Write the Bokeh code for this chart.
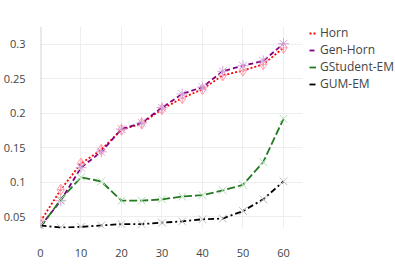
from bokeh.plotting import figure
from bokeh.models import Legend, LegendItem, Range1d, FixedTicker, Span
from bokeh.embed import file_html
from bokeh.resources import INLINE

x = [0, 5, 10, 15, 20, 25, 30, 35, 40, 45, 50, 55, 60]
horn = [0.043, 0.089, 0.127, 0.147, 0.176, 0.185, 0.206, 0.222, 0.235, 0.255, 0.262, 0.271, 0.295]
gen_horn = [0.036, 0.073, 0.121, 0.144, 0.177, 0.186, 0.208, 0.228, 0.238, 0.261, 0.269, 0.276, 0.301]
gstudent = [0.034, 0.075, 0.107, 0.101, 0.073, 0.073, 0.075, 0.079, 0.081, 0.088, 0.096, 0.129, 0.192]
gum = [0.037, 0.034, 0.035, 0.037, 0.039, 0.039, 0.041, 0.043, 0.046, 0.047, 0.058, 0.075, 0.101]

x_ticks = [0, 10, 20, 30, 40, 50, 60]
y_ticks = [0.05, 0.1, 0.15, 0.2, 0.25, 0.3]
y_tick_labels = ["0.05", "0.1", "0.15", "0.2", "0.25", "0.3"]

series = [
    ("Horn", horn, "red", "#ffa0ad", "diamond_cross", "2 2"),
    ("Gen-Horn", gen_horn, "purple", "#d2a6da", "asterisk", "5 3"),
    ("GStudent-EM", gstudent, "#237a23", "#b0dcb0", "x", "8 3"),
    ("GUM-EM", gum, "black", "#bdbdbd", "x", "6 3 2 3"),
]

p = figure(frame_width=262, frame_height=202, output_backend="svg", toolbar_location=None,
           x_range=Range1d(0, 64.7), y_range=Range1d(0.0326, 0.326),
           min_border_left=40, min_border_top=26, min_border_right=85, min_border_bottom=28)
p.outline_line_color = None
p.background_fill_color = "white"

for ax in (p.xaxis[0], p.yaxis[0]):
    ax.axis_line_color = None
    ax.major_tick_line_color = None
    ax.minor_tick_line_color = None
    ax.major_label_text_font = "Open Sans"
    ax.major_label_text_font_size = "11px"
    ax.major_label_text_color = "#444444"
p.xaxis.ticker = FixedTicker(ticks=x_ticks)
p.yaxis.ticker = FixedTicker(ticks=y_ticks)
p.yaxis.major_label_overrides = {t: l for t, l in zip(y_ticks, y_tick_labels)}
p.xaxis.major_label_standoff = 14
p.yaxis.major_label_standoff = 9
p.xgrid.ticker = FixedTicker(ticks=x_ticks)
p.ygrid.ticker = FixedTicker(ticks=y_ticks)
p.xgrid.grid_line_color = "#eeeeee"
p.ygrid.grid_line_color = "#eeeeee"

p.add_layout(Span(location=0, dimension="height", line_color="#d4d4d4", line_width=2))

items = []
for name, ys, col, mcol, marker, dash in series:
    r = p.line(x, ys, line_color=col, line_width=1.8, line_dash=dash)
    p.scatter(x, ys, marker=marker, size=11, line_color=mcol, fill_color=None, line_width=1)
    items.append(LegendItem(label=name, renderers=[r]))

legend = Legend(items=items, location=(7, 136), padding=0, margin=0,
                border_line_color=None, background_fill_alpha=0,
                glyph_width=7, glyph_height=16, label_height=16, spacing=0,
                label_standoff=4, label_text_font="Open Sans",
                label_text_font_size="12px", label_text_color="#444444")
p.add_layout(legend, "right")

open("out.html", "w").write(file_html(p, INLINE))
